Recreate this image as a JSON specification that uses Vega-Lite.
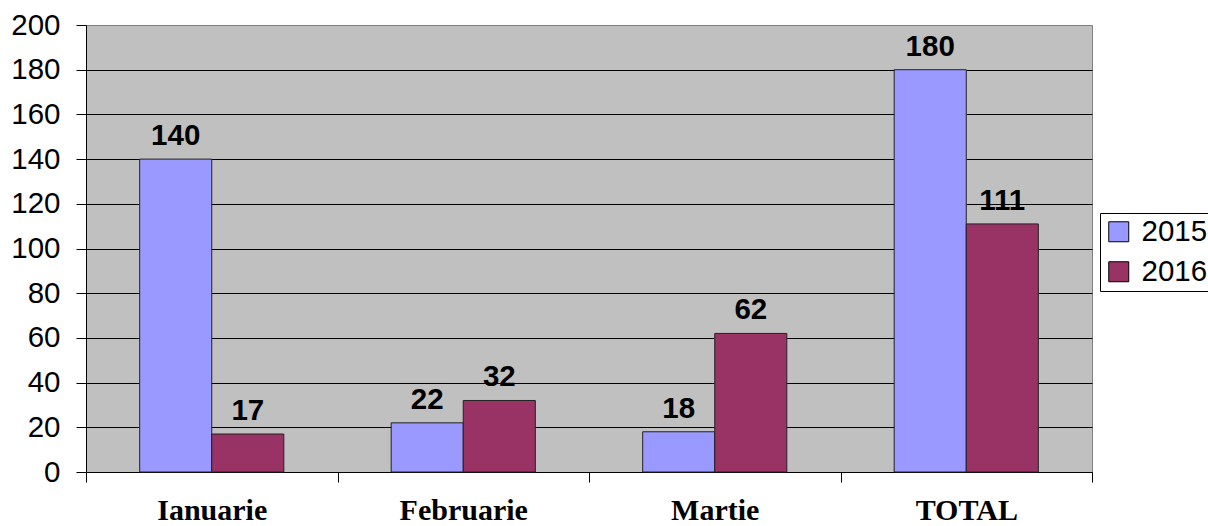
{
  "$schema": "https://vega.github.io/schema/vega-lite/v6.json",
  "width": 1006,
  "height": 447,
  "autosize": {"type": "none"},
  "padding": {"left": 86, "top": 25, "right": 116, "bottom": 54},
  "background": "white",
  "data": {
    "values": [
      {"luna": "Ianuarie", "an": "2015", "valoare": 140},
      {"luna": "Ianuarie", "an": "2016", "valoare": 17},
      {"luna": "Februarie", "an": "2015", "valoare": 22},
      {"luna": "Februarie", "an": "2016", "valoare": 32},
      {"luna": "Martie", "an": "2015", "valoare": 18},
      {"luna": "Martie", "an": "2016", "valoare": 62},
      {"luna": "TOTAL", "an": "2015", "valoare": 180},
      {"luna": "TOTAL", "an": "2016", "valoare": 111}
    ]
  },
  "encoding": {
    "x": {
      "field": "luna", "type": "nominal", "sort": null,
      "scale": {"paddingInner": 0, "paddingOuter": 0},
      "axis": {
        "title": null, "labelAngle": 0, "tickBand": "extent",
        "labelFont": "Liberation Serif", "labelFontWeight": "bold", "labelFontSize": 30,
        "labelColor": "black", "labelBaseline": "alphabetic", "labelPadding": 37,
        "tickSize": 10, "tickColor": "black", "domainColor": "black", "grid": false
      }
    },
    "xOffset": {
      "field": "an", "type": "nominal",
      "scale": {"paddingInner": 0, "paddingOuter": 0.745}
    },
    "y": {
      "field": "valoare", "type": "quantitative",
      "scale": {"domain": [0, 200], "nice": false},
      "axis": {
        "title": null, "values": [0, 20, 40, 60, 80, 100, 120, 140, 160, 180, 200],
        "labelFont": "Liberation Sans", "labelFontSize": 29.5, "labelColor": "black",
        "labelPadding": 16, "tickSize": 10, "tickColor": "black", "domainColor": "black",
        "grid": true,
        "gridColor": {"condition": {"test": "datum.value === 200", "value": "transparent"}, "value": "black"},
        "gridOpacity": 1
      }
    }
  },
  "layer": [
    {
      "mark": {"type": "bar", "stroke": "#222222", "strokeWidth": 1},
      "encoding": {
        "color": {
          "field": "an", "type": "nominal",
          "scale": {"domain": ["2015", "2016"], "range": ["#9999FF", "#993366"]},
          "legend": {
            "title": null, "orient": "none", "legendX": 1014, "legendY": 188,
            "symbolType": "square", "symbolSize": 400, "symbolStrokeColor": "black",
            "symbolStrokeWidth": 1, "labelFont": "Liberation Sans", "labelFontSize": 29.5,
            "labelColor": "black", "labelOffset": 8, "rowPadding": 9, "padding": 4,
            "strokeColor": "black", "fillColor": "white", "cornerRadius": 0
          }
        }
      }
    },
    {
      "mark": {"type": "text", "baseline": "alphabetic", "dy": -14, "font": "Liberation Sans", "fontWeight": "bold", "fontSize": 29.5, "color": "black"},
      "encoding": {"text": {"field": "valoare", "type": "quantitative"}}
    }
  ],
  "config": {
    "view": {"fill": "#C0C0C0", "stroke": "#808080"},
    "axis": {"domainWidth": 1, "tickWidth": 1, "gridWidth": 1}
  }
}
